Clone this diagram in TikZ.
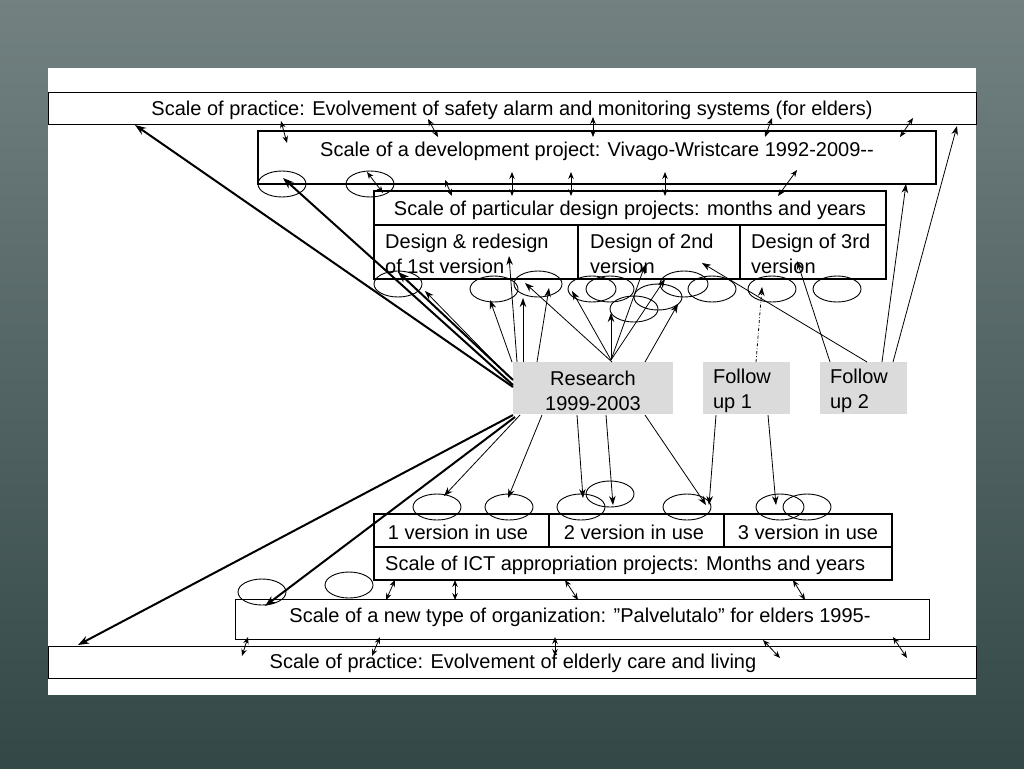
\documentclass[tikz,border=0pt]{standalone}
\usepackage{fontspec}
\setmainfont{Liberation Sans}
\usetikzlibrary{arrows.meta}
\begin{document}
\begin{tikzpicture}[x=1pt,y=-1pt,
  bx/.style={draw,line width=1.8pt},
  band/.style={draw,line width=0.7pt},
  el/.style={draw,line width=0.9pt},
  ar/.style={-{Stealth[length=9pt,width=6.5pt]},line width=0.8pt},
  tk/.style={-{Stealth[length=11pt,width=8pt]},line width=2pt},
  da/.style={{Stealth[length=7pt,width=5.5pt]}-{Stealth[length=7pt,width=5.5pt]},line width=0.8pt},
  gr/.style={fill=black!14,draw=none},
  tx/.style={font=\fontsize{20}{25}\selectfont,inner sep=0pt}]
\useasboundingbox (0,0) rectangle (1024,768);
\shade[top color=cyan!10!black!55,bottom color=cyan!10!black!80] (0,0) rectangle (1024,768);
\fill[white] (48,68) rectangle (976,695);
\draw[band] (48,92) rectangle (976,124);
\node[tx] (tp) at (512,110) {Scale of practice: Evolvement of safety alarm and monitoring systems (for elders)};
\draw[bx,line width=1.1pt] (258,131) rectangle (936,184);
\node[tx] (dev) at (597,151) {Scale of a development project: Vivago-Wristcare 1992-2009{-}{-}};
\draw[bx] (374,191) rectangle (886,279);
\draw[bx] (374,225) -- (886,225) (578,225) -- (578,279) (740,225) -- (740,279);
\node[tx] (pd) at (630,210) {Scale of particular design projects: months and years};
\node[tx,align=left,anchor=north west] (d1) at (385,234) {Design \& redesign\\of 1st version};
\node[tx,align=left,anchor=north west] (d2) at (590,234) {Design of 2nd\\version};
\node[tx,align=left,anchor=north west] (d3) at (751,234) {Design of 3rd\\version};
\fill[gr] (513,362) rectangle (673,414);
\node[tx,align=center] (res) at (593,391) {Research\\1999-2003};
\fill[gr] (703,362) rectangle (790,414);
\node[tx,align=left] (f1) at (742,391) {Follow\\up 1};
\fill[gr] (820,362) rectangle (907,414);
\node[tx,align=left] (f2) at (859,391) {Follow\\up 2};
\draw[bx] (374,514) rectangle (892,580);
\draw[bx] (374,547) -- (892,547) (549,514) -- (549,547) (724,514) -- (724,547);
\node[tx] (v1) at (458,532) {1 version in use};
\node[tx] (v2) at (634,532) {2 version in use};
\node[tx] (v3) at (808,532) {3 version in use};
\node[tx,anchor=west] (ict) at (385,565) {Scale of ICT appropriation projects: Months and years};
\draw[band,line width=1pt] (235,599) rectangle (929,639);
\node[tx] (org) at (580,617) {Scale of a new type of organization: ”Palvelutalo” for elders 1995-};
\draw[band] (48,646) rectangle (976,678);
\node[tx] (bp) at (513,663) {Scale of practice: Evolvement of elderly care and living};
\foreach \x/\y in {282/184,370/184,398/284,494/289,538/284,592/289,610/289,634/309,658/297,684/284,712/289,772/289,837/289,437/507,509/507,581/507,610/494,687/507,780/507,807/507,262/592,349/585}
  \draw[el] (\x,\y) ellipse (24 and 13);
\foreach \a/\b/\c/\d in {281/121/287/143,428/119/438/137,593/117/593/137,772/118/765/137,913/118/900/137,
  367/172/383/193,445/180/452/196,512/172/512/196,571/172/571/196,665/172/665/196,797/170/778/196,
  395/580/386/600,455/580/455/600,565/580/578/600,793/580/805/600,
  248/637/242/656,380/637/372/656,555/637/555/656,763/640/780/658,893/637/907/658}
  \draw[da] (\a,\b) -- (\c,\d);
\draw[tk] (513,387) -- (135,125);
\draw[tk] (513,385) -- (283,178);
\draw[tk] (513,380) -- (398,272);
\draw[ar] (508,376) -- (425,291);
\draw[ar] (512,362) -- (490,300);
\draw[ar] (517,362) -- (509,256);
\draw[ar] (523,362) -- (523,298);
\draw[ar] (537,362) -- (549,288);
\draw[ar] (612,362) -- (525,283);
\draw[ar] (611,360) -- (572,291);
\draw[ar] (611,360) -- (611,313);
\draw[ar] (611,360) -- (645,265);
\draw[ar] (611,360) -- (665,279);
\draw[ar] (645,362) -- (678,304);
\draw[ar,dash dot] (756,362) -- (762,287);
\draw[ar] (867,362) -- (702,263);
\draw[ar] (830,362) -- (797,261);
\draw[ar] (882,362) -- (906,184);
\draw[ar] (893,362) -- (957,126);
\draw[tk] (513,415) -- (78,645);
\draw[tk] (515,417) -- (265,606);
\draw[ar] (520,415) -- (444,496);
\draw[ar] (542,415) -- (508,498);
\draw[ar] (577,415) -- (583,498);
\draw[ar] (606,415) -- (613,505);
\draw[ar] (645,415) -- (706,505);
\draw[ar] (716,415) -- (709,505);
\draw[ar] (768,415) -- (776,505);
\end{tikzpicture}
\end{document}
